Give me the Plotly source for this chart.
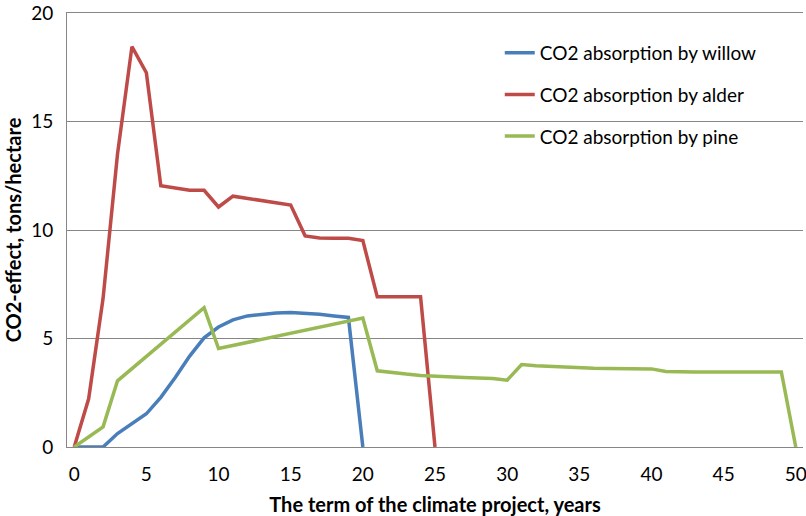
import plotly.graph_objects as go

years = list(range(0, 51))

willow = [0, 0, 0, 0.62, 1.08, 1.53, 2.29, 3.2, 4.19, 5.03, 5.53, 5.86, 6.04, 6.13, 6.18, 6.2,
          6.17, 6.12, 6.04, 5.97, 0]
alder = [0, 2.22, 6.85, 13.5, 18.45, 17.25, 12.04, 11.94, 11.83, 11.83, 11.06, 11.56, 11.45,
         11.35, 11.25, 11.15, 9.73, 9.63, 9.62, 9.62, 9.51, 6.92, 6.92, 6.92, 6.92, 0]
pine = [0, 0.46, 0.93, 3.05, 3.61, 4.17, 4.74, 5.3, 5.86, 6.42, 4.54, 4.68, 4.82, 4.96, 5.1,
        5.24, 5.38, 5.52, 5.66, 5.8, 5.94, 3.51, 3.42, 3.36, 3.3, 3.26, 3.23, 3.2, 3.18, 3.16,
        3.08, 3.8, 3.75, 3.71, 3.68, 3.66, 3.63, 3.62, 3.61, 3.61, 3.6, 3.48, 3.46, 3.46, 3.46,
        3.46, 3.46, 3.46, 3.46, 3.46, 0]

names = ["CO2 absorption by willow", "CO2 absorption by alder", "CO2 absorption by pine"]
colors = ["#4A7EBB", "#BE4B48", "#98B954"]
x_ticks = list(range(0, 51, 5))
y_ticks = [0, 5, 10, 15, 20]

fig = go.Figure()
for i, (name, vals, col) in enumerate(zip(names, [willow, alder, pine], colors)):
    fig.add_trace(go.Scatter(
        x=years[:len(vals)], y=vals, mode="lines", name=name,
        line=dict(color=col, width=3.5), legendgroup=str(i)))

font = "Lato"
grid = "#868686"
fig.update_layout(
    width=806, height=516,
    margin=dict(l=67, r=3, t=13, b=69, autoexpand=False),
    paper_bgcolor="white", plot_bgcolor="white",
    font=dict(family=font, size=19, color="black"),
    showlegend=True,
    legend=dict(x=0.588, y=0.952, xanchor="left", yanchor="top",
                font=dict(size=19), tracegroupgap=14, bgcolor="rgba(0,0,0,0)"),
    xaxis=dict(range=[-0.5, 50.5], tickvals=x_ticks, showgrid=False, zeroline=False,
               showline=True, mirror=True, linecolor=grid, linewidth=1,
               ticks="", tickfont=dict(size=19), ticklabelstandoff=10, automargin=False,
               ticklabeloverflow="allow",
               title=dict(text="<b>The term of the climate project, years</b>",
                          font=dict(size=20), standoff=17)),
    yaxis=dict(range=[0, 20], tickvals=y_ticks, showgrid=True, gridcolor=grid,
               gridwidth=1, zeroline=False, showline=True, linecolor=grid, linewidth=1,
               ticks="", tickfont=dict(size=19), ticklabelstandoff=9, automargin=False,
               ticklabeloverflow="allow",
               title=dict(text="<b>CO2-effect, tons/hectare</b>", font=dict(size=20),
                          standoff=4)),
)

fig.write_html("out.html", config={"displayModeBar": False},
               post_script="document.body.style.margin='0';document.body.style.overflow='hidden';")
